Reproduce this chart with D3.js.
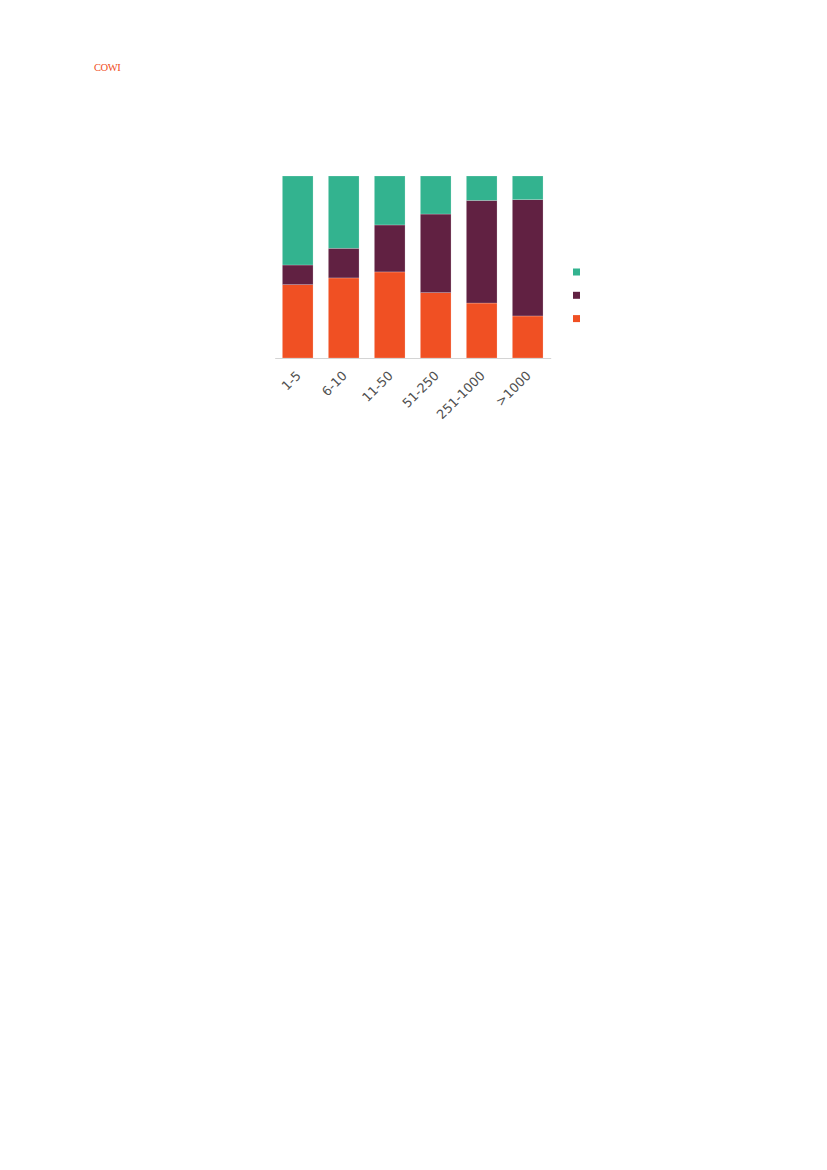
<!DOCTYPE html>
<html>
<head>
<meta charset="utf-8">
<script src="https://cdn.jsdelivr.net/npm/d3@7"></script>
<style>
    body { margin: 0; background: #fff; }
    svg { display: block; }
</style>
</head>
<body>
<div id="chart"></div>
<script>
// company size groups and share of each series (percent of bar)
const categories = ["1-5", "6-10", "11-50", "51-250", "251-1000", ">1000"];
const seriesNames = ["bottom", "middle", "top"];
const bottomValues = [40.3, 44.0, 47.3, 35.9, 30.2, 23.1];
const middleValues = [10.8, 16.3, 25.8, 43.2, 56.4, 63.9];
const topValues = [48.9, 39.7, 26.9, 20.9, 13.4, 13.0];
const colors = ["#f05023", "#612142", "#33b38f"];

const W = 827, H = 1170;
const margin = { top: 176, left: 274.7 };
const width = 276;
const height = 182;

const svg = d3.select("#chart")
    .append("svg")
    .attr("width", W)
    .attr("height", H);

// logo
svg.append("text")
    .attr("x", 94)
    .attr("y", 71)
    .attr("font-family", "'Liberation Serif', 'DejaVu Serif', serif")
    .attr("font-size", 10.5)
    .attr("letter-spacing", -0.4)
    .attr("fill", "#f04e23")
    .text("COWI");

const g = svg.append("g")
    .attr("transform", `translate(${margin.left},${margin.top})`);

const rows = categories.map((c, i) => ({
    cat: c,
    bottom: bottomValues[i],
    middle: middleValues[i],
    top: topValues[i]
}));

const stack = d3.stack()
    .keys(seriesNames)
    .offset(d3.stackOffsetExpand);
const stacked = stack(rows);

const xScale = d3.scaleBand()
    .domain(categories)
    .range([0, width])
    .paddingInner(0.333)
    .paddingOuter(0.1667);

const yScale = d3.scaleLinear()
    .domain([0, 1])
    .range([height, 0]);

// bars
g.selectAll(".layer")
    .data(stacked)
    .enter()
    .append("g")
    .attr("class", "layer")
    .attr("fill", (d, i) => colors[i])
    .selectAll("rect")
    .data(d => d)
    .enter()
    .append("rect")
    .attr("x", d => xScale(d.data.cat))
    .attr("width", xScale.bandwidth())
    .attr("y", d => yScale(d[1]))
    .attr("height", d => yScale(d[0]) - yScale(d[1]))
    .attr("stroke", "#ffffff")
    .attr("stroke-opacity", 0.35)
    .attr("stroke-width", 0.6);

// x axis
const xAxis = d3.axisBottom(xScale).tickSize(0).tickSizeOuter(0);
const ax = g.append("g")
    .attr("transform", `translate(0,${height})`)
    .call(xAxis);
ax.select(".domain")
    .attr("stroke", "#d4d4d4")
    .attr("stroke-width", 1);
ax.selectAll("text")
    .attr("font-family", "DejaVu Sans, Verdana, sans-serif")
    .attr("font-size", 12.8)
    .attr("fill", "#505050")
    .attr("dy", null)
    .attr("y", 0)
    .style("text-anchor", "end")
    .attr("transform", "translate(4,18.5) rotate(-45)");

// legend (markers only)
const legend = svg.append("g")
    .attr("transform", "translate(573,268.5)");
const legendOrder = [2, 1, 0];
legend.selectAll("rect")
    .data(legendOrder)
    .enter()
    .append("rect")
    .attr("x", 0)
    .attr("y", (d, i) => i * 23.3)
    .attr("width", 7)
    .attr("height", 7)
    .attr("fill", d => colors[d]);
</script>
</body>
</html>
